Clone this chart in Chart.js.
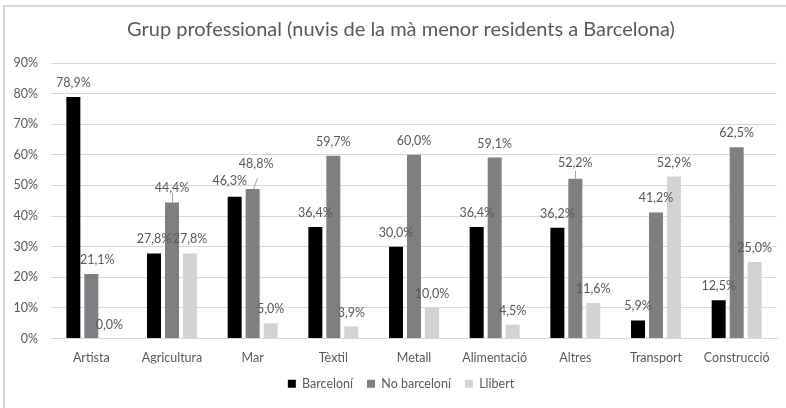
<!DOCTYPE html>
<html lang="ca">
<head>
<meta charset="utf-8">
<title>Grup professional</title>
<script src="https://cdn.jsdelivr.net/npm/chart.js@4/dist/chart.umd.min.js"></script>
<style>
  html, body { margin: 0; padding: 0; background: #ffffff; }
  #wrap { position: relative; width: 786px; height: 408px; }
</style>
</head>
<body>
<div id="wrap"><canvas id="chart" width="786" height="408"></canvas></div>
<script>
// Professional group of grooms (mà menor) living in Barcelona, % by origin
const categories = ['Artista', 'Agricultura', 'Mar', 'Tèxtil', 'Metall', 'Alimentació', 'Altres', 'Transport', 'Construcció'];
const barceloni   = [78.9, 27.8, 46.3, 36.4, 30.0, 36.4, 36.2, 5.9, 12.5];
const noBarceloni = [21.1, 44.4, 48.8, 59.7, 60.0, 59.1, 52.2, 41.2, 62.5];
const llibert     = [0.0, 27.8, 5.0, 3.9, 10.0, 4.5, 11.6, 52.9, 25.0];
const seriesNames = ['Barceloní', 'No barceloní', 'Llibert'];
const yTicks = [0, 10, 20, 30, 40, 50, 60, 70, 80, 90];

const FONT = 'Lato, "Open Sans", sans-serif';
const TEXT = '#595959';
const pct = v => v + '%';

// Width of the widest y tick label, so mirrored labels can sit right-aligned left of the plot
const measureCtx = document.createElement('canvas').getContext('2d');
measureCtx.font = '12.5px ' + FONT;
const widestTick = Math.max(...yTicks.map(v => measureCtx.measureText(pct(v)).width));

// Hand-placed value labels (series:index) and their leader lines
const labelNudge = {
  '1:0': { dx: 6, dy: 0 },
  '1:1': { dx: 0, dy: -1, leader: [0, -10] },
  '0:2': { dx: -5, dy: -2 },
  '1:2': { dx: 3.5, dy: -11, leader: [4, -11] },
  '1:6': { dx: 0, dy: -2, leader: [0, -8] }
};

const fmt = v => v.toFixed(1).replace('.', ',') + '%';

const valueLabels = {
  id: 'valueLabels',
  afterDatasetsDraw(chart) {
    const ctx = chart.ctx;
    ctx.save();
    ctx.font = '12.5px ' + FONT;
    ctx.fillStyle = TEXT;
    ctx.textAlign = 'center';
    ctx.textBaseline = 'middle';
    chart.data.datasets.forEach((ds, si) => {
      const meta = chart.getDatasetMeta(si);
      meta.data.forEach((bar, i) => {
        const n = labelNudge[si + ':' + i] || { dx: 0, dy: 0 };
        if (n.leader) {
          ctx.strokeStyle = '#a6a6a6';
          ctx.lineWidth = 1;
          ctx.beginPath();
          ctx.moveTo(Math.round(bar.x) + 0.5, bar.y);
          ctx.lineTo(Math.round(bar.x + n.leader[0]) + 0.5, bar.y + n.leader[1]);
          ctx.stroke();
        }
        ctx.fillText(fmt(ds.data[i]), bar.x + n.dx, bar.y - 14 + n.dy);
      });
    });
    ctx.restore();
  }
};

const frame = {
  id: 'frame',
  afterDraw(chart) {
    const ctx = chart.ctx;
    ctx.save();
    ctx.fillStyle = '#d9d9d9';
    ctx.fillRect(3, 5, 786, 2);
    ctx.fillRect(3, 5, 2, 408);
    ctx.restore();
  }
};

new Chart(document.getElementById('chart'), {
  type: 'bar',
  data: {
    labels: categories,
    datasets: [
      { label: seriesNames[0], data: barceloni,   backgroundColor: '#000000' },
      { label: seriesNames[1], data: noBarceloni, backgroundColor: '#7f7f83' },
      { label: seriesNames[2], data: llibert,     backgroundColor: '#d3d3d5' }
    ]
  },
  options: {
    responsive: false,
    animation: false,
    devicePixelRatio: 1,
    datasets: { bar: { categoryPercentage: 0.669, barPercentage: 0.778 } },
    layout: { padding: { left: 25, right: 9, top: 0, bottom: 8 } },
    plugins: {
      title: {
        display: true,
        text: 'Grup professional (nuvis de la mà menor residents a Barcelona)',
        color: TEXT,
        font: { family: FONT, size: 20, weight: 'normal' },
        padding: { top: 18, bottom: 21 }
      },
      legend: {
        position: 'bottom',
        labels: {
          color: TEXT,
          font: { family: FONT, size: 12.5 },
          boxWidth: 8,
          boxHeight: 8,
          padding: 14
        }
      },
      tooltip: { enabled: false }
    },
    scales: {
      x: {
        grid: { display: false, drawTicks: false },
        border: { display: true, color: '#d9d9d9' },
        ticks: { color: TEXT, font: { family: FONT, size: 12.5 }, padding: 12, maxRotation: 0 },
        afterFit(s) { s.height = 25; }
      },
      y: {
        min: 0,
        max: 90,
        grid: { color: '#d9d9d9', drawTicks: false },
        border: { display: false },
        afterBuildTicks(s) { s.ticks = yTicks.map(v => ({ value: v })); },
        ticks: {
          color: TEXT,
          font: { family: FONT, size: 12.5 },
          mirror: true,
          crossAlign: 'far',
          padding: -13 - widestTick,
          callback: pct
        },
        afterFit(s) { s.width = 26; }
      }
    }
  },
  plugins: [valueLabels, frame]
});
</script>
</body>
</html>
